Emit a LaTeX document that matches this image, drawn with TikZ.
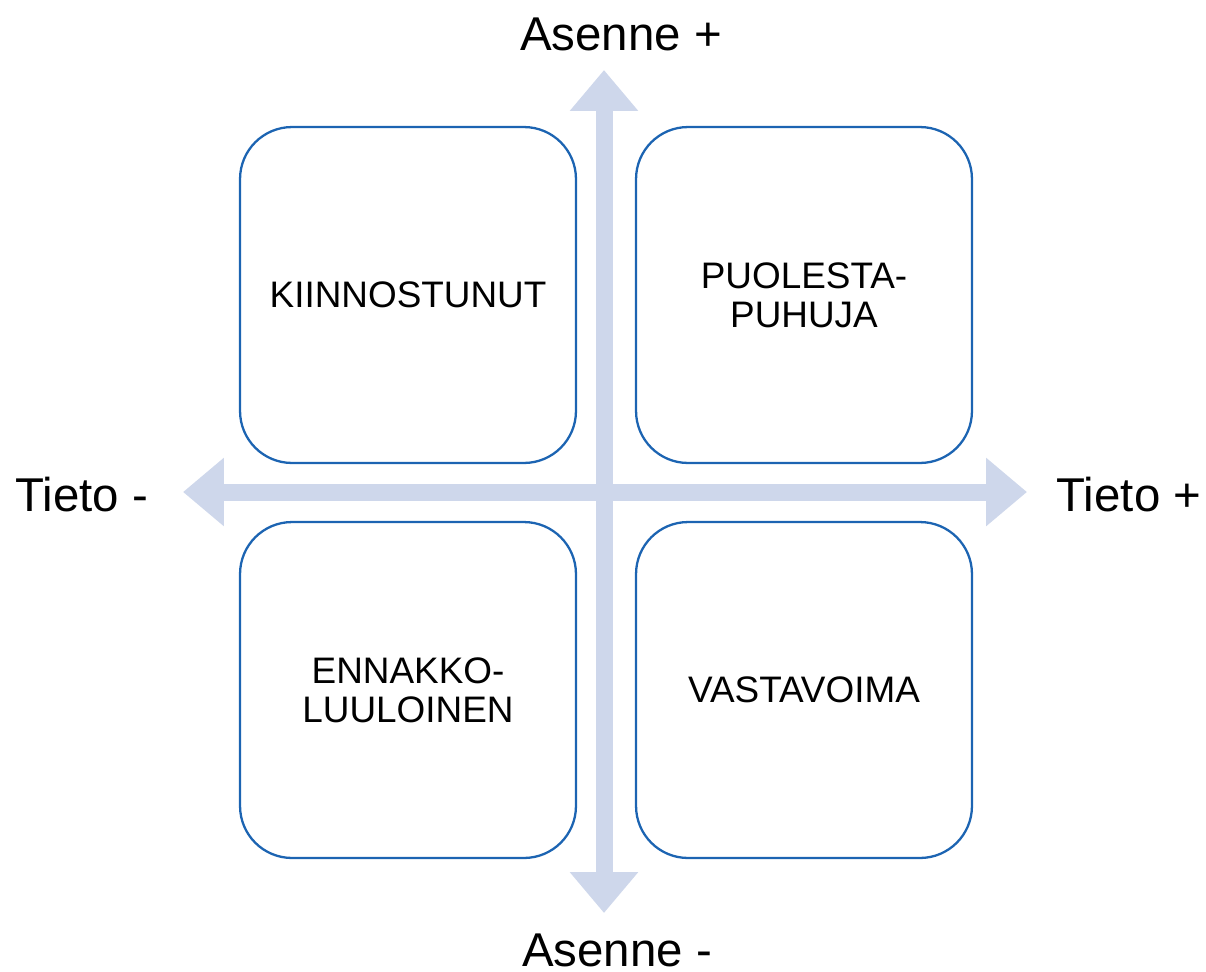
\documentclass[tikz,border=0pt]{standalone}
\usepackage{fontspec}
\setmainfont{Liberation Sans}
\usepackage{xcolor}
\definecolor{AxisGray}{RGB}{206,215,235}
\definecolor{BoxBlue}{RGB}{28,100,178}
\usetikzlibrary{arrows.meta}

\begin{document}
\begin{tikzpicture}
	\begin{scope}[x={(0.02cm,0cm)},y={(0cm,-0.02cm)}]
	\useasboundingbox (0,0) rectangle (1206,971);

	% axis end points
	\coordinate (top) at (604,70);
	\coordinate (bottom) at (604,913);
	\coordinate (left) at (183,492);
	\coordinate (right) at (1027,492);

	\draw[AxisGray, line width=0.34cm, {Triangle[width=1.32cm,length=0.82cm]}-{Triangle[width=1.32cm,length=0.82cm]}] (left)--(right);
	\draw[AxisGray, line width=0.34cm, {Triangle[width=1.32cm,length=0.82cm]}-{Triangle[width=1.32cm,length=0.82cm]}] (top)--(bottom);

	\tikzset{quad/.style={draw=BoxBlue, line width=1.3pt, fill=white, rounded corners=1.04cm,
		minimum width=6.72cm, minimum height=6.72cm, align=center, font=\fontsize{21}{22}\selectfont}}

	\node[quad] at (408,295) (kiinnostunut) {KIINNOSTUNUT}; % top left
	\node[quad] at (804,295) (puolestapuhuja) {PUOLESTA-\\PUHUJA}; % top right
	\node[quad] at (408,690) (ennakkoluuloinen) {ENNAKKO-\\LUULOINEN}; % lower left
	\node[quad] at (804,690) (vastavoima) {VASTAVOIMA}; % lower right

	\end{scope}

	\begin{scope}[x={(0.02cm,0cm)},y={(0cm,-0.02cm)}, every node/.style={inner sep=0cm, font=\fontsize{27}{30}\selectfont}]
	\node at (621,34) (asenneplus) {Asenne +};
	\node at (617,950) (asennemiinus) {Asenne -};
	\node at (82,495) (tietomiinus) {Tieto -};
	\node at (1129,495) (tietoplus) {Tieto +};
	\end{scope}
\end{tikzpicture}
\end{document}
